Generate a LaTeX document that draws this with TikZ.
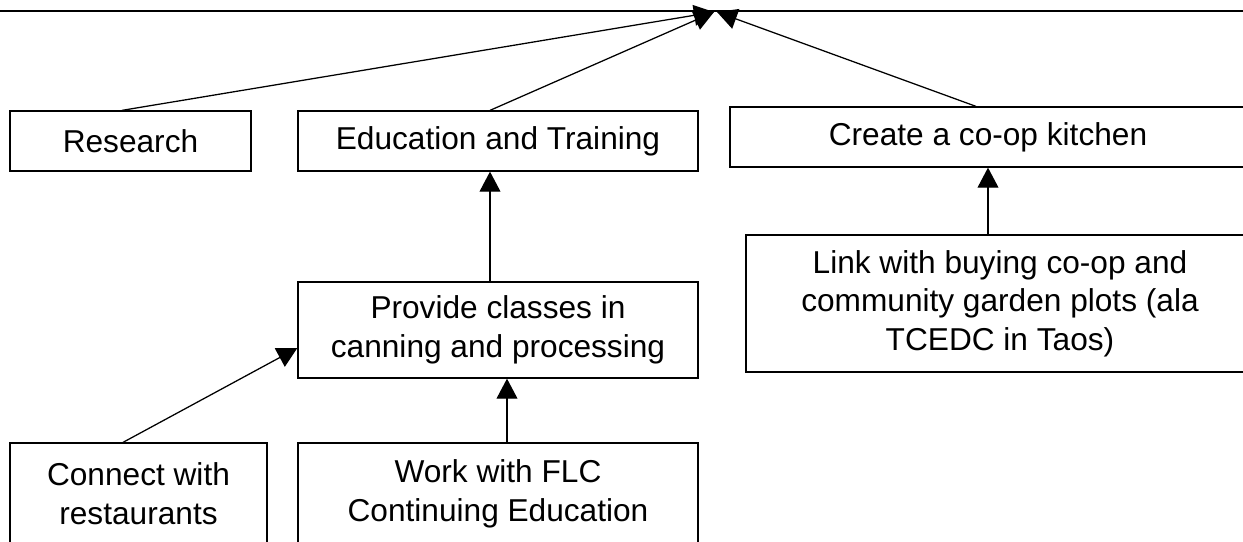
\documentclass[tikz,border=0pt]{standalone}
\usepackage{fontspec}
\setmainfont{Liberation Sans}
\usetikzlibrary{arrows.meta}
\newcommand{\pxu}{0.025cm}
\tikzset{
  box/.style={draw, line width=0.9pt, align=center, inner sep=0pt,
    font=\fontsize{22.5}{27.5}\selectfont},
  arr/.style={line width=0.9pt, -{Triangle[length=0.5cm, width=0.52cm]}},
}
\begin{document}
\begin{tikzpicture}[x=\pxu, y=-\pxu]
  \useasboundingbox (0,0) rectangle (1243,541);
  \clip (0,0) rectangle (1243,541);
  % Top line
  \draw[line width=0.9pt] (0,11) -- (1243,11);
  \coordinate (goal) at (714,12);
  % Boxes, first row
  \node[box, minimum width=241*\pxu, minimum height=60*\pxu] (research) at (130.5,141) {Research};
  \node[box, minimum width=400*\pxu, minimum height=60*\pxu] (edu) at (498,141) {Education and Training};
  \node[box, minimum width=516*\pxu, minimum height=60*\pxu] (kitchen) at (988,137) {Create a co-op kitchen};
  % Boxes, second row
  \node[box, minimum width=400*\pxu, minimum height=96*\pxu] (provide) at (498,330)
    {Provide classes in\\canning and processing};
  \node[box, minimum width=508*\pxu, minimum height=137*\pxu] (link) at (1000,303.5)
    {Link with buying co-op and\\community garden plots (ala\\TCEDC in Taos)};
  % Boxes, third row
  \node[box, minimum width=257*\pxu, minimum height=102*\pxu] (connect) at (138.5,494)
    {Connect with\\restaurants};
  \node[box, minimum width=400*\pxu, minimum height=102*\pxu] (work) at (498,494)
    {Work with FLC\\Continuing Education};
  % Arrows to the top
  \draw[arr] ([xshift=-8.5*\pxu]research.north) -- (goal);
  \draw[arr] ([xshift=-8*\pxu]edu.north) -- (goal);
  \draw[arr] ([xshift=-12*\pxu]kitchen.north) -- ([xshift=3*\pxu]goal);
  % Arrows between boxes
  \draw[arr] ([xshift=-8*\pxu]provide.north) -- ([xshift=-8*\pxu]edu.south);
  \draw[arr] ([xshift=9*\pxu]work.north) -- ([xshift=9*\pxu]provide.south);
  \draw[arr] ([xshift=-15.5*\pxu]connect.north) -- ([yshift=-18*\pxu]provide.west);
  \draw[arr] (kitchen.south |- link.north) -- (kitchen.south);
\end{tikzpicture}
\end{document}
